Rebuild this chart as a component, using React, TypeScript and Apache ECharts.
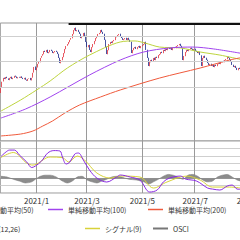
import React, { useEffect, useRef } from "react";
import * as echarts from "echarts";

// ---- data ----
const START_DATE = "2020-11-23";
const END_DATE = "2021-09-03";

const opens = [
  2551, 2592, 2642, 2672, 2660, 2679, 2666, 2652, 2668, 2680,
  2660, 2670, 2688, 2681, 2666, 2678, 2670, 2682, 2671, 2659,
  2672, 2656, 2646, 2664, 2670, 2650, 2672, 2712, 2760, 2730,
  2752, 2782, 2793, 2829, 2845, 2856, 2884, 2872, 2892, 2864,
  2872, 2892, 2884, 2864, 2872, 2884, 2876, 2860, 2829, 2785,
  2809, 2833, 2864, 2896, 2923, 2935, 2951, 2971, 2982, 3014,
  3045, 3066, 3037, 3049, 3033, 3018, 2982, 2998, 3026, 3002,
  2955, 2911, 2931, 2892, 2872, 2911, 2935, 2959, 2982, 2998,
  3014, 3022, 3049, 3033, 3018, 2971, 2915, 2856, 2888, 2935,
  2955, 2943, 2959, 2967, 2990, 2998, 3006, 3018, 2994, 2986,
  2967, 2974, 2986, 2967, 2986, 2971, 2955, 2864, 2888, 2904,
  2915, 2896, 2911, 2923, 2904, 2919, 2927, 2935, 2955, 2892,
  2829, 2762, 2793, 2813, 2801, 2829, 2809, 2837, 2825, 2848,
  2856, 2876, 2864, 2892, 2880, 2900, 2888, 2908, 2896, 2908,
  2888, 2904, 2915, 2904, 2919, 2927, 2939, 2923, 2904, 2809,
  2841, 2872, 2892, 2880, 2896, 2908, 2900, 2888, 2900, 2884,
  2876, 2864, 2876, 2848, 2762, 2825, 2845, 2829, 2813, 2789,
  2770, 2782, 2762, 2774, 2754, 2774, 2762, 2778, 2789, 2778,
  2793, 2805, 2793, 2809, 2817, 2837, 2829, 2813, 2797, 2774,
  2754, 2766, 2750, 2730, 2750, 2742
];
const closes = [
  2590, 2640, 2670, 2662, 2677, 2668, 2654, 2670, 2678, 2662,
  2671, 2686, 2679, 2668, 2676, 2672, 2680, 2669, 2661, 2670,
  2655, 2648, 2662, 2668, 2652, 2670, 2710, 2756, 2732, 2750,
  2780, 2795, 2827, 2843, 2858, 2882, 2874, 2890, 2866, 2874,
  2890, 2882, 2866, 2874, 2882, 2874, 2858, 2827, 2787, 2811,
  2835, 2866, 2898, 2921, 2937, 2953, 2969, 2984, 3016, 3047,
  3063, 3039, 3047, 3031, 3016, 2984, 3000, 3024, 3000, 2953,
  2913, 2929, 2890, 2874, 2913, 2937, 2961, 2984, 3000, 3016,
  3024, 3047, 3031, 3016, 2969, 2913, 2858, 2890, 2937, 2953,
  2945, 2961, 2969, 2992, 3000, 3008, 3016, 2992, 2984, 2969,
  2976, 2984, 2969, 2984, 2969, 2953, 2866, 2890, 2906, 2913,
  2898, 2913, 2921, 2906, 2921, 2929, 2937, 2953, 2890, 2827,
  2764, 2795, 2811, 2803, 2827, 2811, 2835, 2827, 2850, 2858,
  2874, 2866, 2890, 2882, 2898, 2890, 2906, 2898, 2906, 2890,
  2906, 2913, 2906, 2921, 2929, 2937, 2921, 2906, 2811, 2843,
  2874, 2890, 2882, 2898, 2906, 2898, 2890, 2898, 2882, 2874,
  2866, 2874, 2850, 2764, 2827, 2843, 2827, 2811, 2787, 2772,
  2780, 2764, 2772, 2756, 2772, 2764, 2780, 2787, 2780, 2795,
  2803, 2795, 2811, 2819, 2835, 2827, 2811, 2795, 2772, 2756,
  2764, 2748, 2732, 2748, 2740, 2732
];

// moving averages: [day index, value]
const ma50Pts = [
  [0, 2409], [16, 2496], [29, 2575], [40, 2646], [54, 2748], [72, 2850],
  [97, 2953], [109, 2961], [117, 2945], [129, 2913], [146, 2906],
  [162, 2874], [178, 2850], [195, 2815]
];
const ma100Pts = [
  [0, 2354], [20, 2425], [40, 2520], [72, 2693], [97, 2811], [116, 2874],
  [137, 2906], [156, 2913], [173, 2898], [195, 2864]
];
const ma200Pts = [
  [0, 2213], [16, 2228], [26, 2252], [34, 2291], [42, 2331], [52, 2394],
  [64, 2457], [81, 2520], [97, 2575], [129, 2669], [162, 2748],
  [186, 2811], [195, 2829]
];
const macdPts = [
  [0, 29.1], [4, 35.1], [7, 37.8], [11, 37.8], [15, 31.1], [21, 21.7],
  [25, 14.3], [28, 16.3], [33, 23.0], [38, 33.8], [43, 37.1], [48, 36.5],
  [50, 28.4], [53, 19.0], [56, 21.7], [60, 32.4], [63, 33.8], [67, 24.4],
  [72, 10.9], [78, 0.1], [86, -5.2], [94, 1.5], [97, 4.2], [105, 1.5],
  [113, -2.6], [121, -18.7], [127, -16.0], [132, -5.2], [137, 0.1],
  [146, 2.8], [150, -1.2], [159, -3.9], [168, -13.3], [172, -14.7],
  [178, -16.0], [184, -10.6], [188, -9.3], [192, -14.7], [195, -15.0]
];
const signalPts = [
  [0, 27.7], [10, 34.5], [21, 20.3], [26, 17.6], [29, 19.0], [40, 28.4],
  [50, 27.7], [55, 21.7], [62, 29.7], [68, 24.4], [78, 6.9], [89, 0.1],
  [97, 2.8], [113, 1.5], [124, -13.3], [135, -5.2], [151, 2.8],
  [162, -2.6], [172, -12.0], [186, -12.0], [195, -13.3]
];
const osciPts = [
  [0, 2.5], [5, 1.5], [10, -1.5], [15, -4], [20, -6.5], [25, -5], [28, -1.5],
  [32, 2.5], [36, 4], [40, 4], [45, 1.5], [50, -4], [54, -6.5], [58, -4],
  [62, 1.5], [66, 2.5], [70, -2.5], [74, -5], [78, -6.5], [82, -4],
  [86, -1.5], [90, 1.5], [94, 2.5], [98, 1.5], [104, -1.5], [110, -2.5],
  [116, -5], [120, -8], [124, -5], [128, -1.5], [132, 2.5], [136, 5],
  [140, 4], [144, 1.5], [148, -1.5], [152, 4], [156, 5], [160, 2.5],
  [164, -2.5], [168, -5], [172, -4], [176, 1.5], [180, 4], [184, 5],
  [188, 1.5], [192, -2.5], [195, -4]
];

const priceGridLevels = [2400, 2600, 2800, 3000];
const highLineLevel = 3094;
const highLineFrom = 55;

// ---- helpers ----
function weekdays(s: string, e: string): string[] {
  const out: string[] = [];
  const d = new Date(s + "T00:00:00Z");
  const end = new Date(e + "T00:00:00Z");
  while (d <= end) {
    const wd = d.getUTCDay();
    if (wd !== 0 && wd !== 6) {
      out.push(`${d.getUTCFullYear()}/${d.getUTCMonth() + 1}/${d.getUTCDate()}`);
    }
    d.setUTCDate(d.getUTCDate() + 1);
  }
  return out;
}

const dates = weekdays(START_DATE, END_DATE);
const monthOf = (s: string) => Number(s.split("/")[1]);
const isLabelDay = (i: number) =>
  i > 0 && i < dates.length && monthOf(dates[i]) !== monthOf(dates[i - 1]) && monthOf(dates[i]) % 2 === 1;

const OFF = 50;
const DAY = 1.23;
const FONT = "'Noto Sans CJK JP', 'Noto Sans', sans-serif";

export default function App() {
  const ref = useRef<HTMLDivElement>(null);
  useEffect(() => {
    if (!ref.current) return;
    const chart = echarts.init(ref.current, undefined, { renderer: "svg" });
    const candles = closes.map((c, i) => {
      const o = opens[i];
      return [o, c, Math.min(o, c), Math.max(o, c)];
    });
    const sparse = (pts: number[][]) => pts.map(([i, v]) => [i, v]);
    const gridLeft = OFF + 0.33;
    const gridWidth = dates.length * DAY;
    const legendBase = {
      orient: "horizontal",
      padding: 0,
      itemWidth: 15,
      itemHeight: 1.5,
      itemGap: 0,
      icon: "rect",
      selectedMode: false,
      textStyle: { fontSize: 7, color: "#333", fontFamily: FONT, padding: [0, 0, 0, 0] },
    };
    const vSplit = {
      show: true,
      interval: (idx: number) => isLabelDay(idx),
      lineStyle: { color: "#9a9a9a", width: 1 },
    };
    chart.setOption({
      animation: false,
      backgroundColor: "#fff",
      grid: [
        { left: gridLeft, top: 23, width: gridWidth, height: 118, show: true, borderColor: "#999", borderWidth: 1 },
        { left: gridLeft, top: 141, width: gridWidth, height: 52, show: true, borderColor: "#999", borderWidth: 1 },
      ],
      xAxis: [
        {
          type: "category", gridIndex: 0, data: dates, boundaryGap: true,
          axisLine: { show: false }, axisTick: { show: false }, axisLabel: { show: false },
          splitLine: vSplit,
        },
        {
          type: "category", gridIndex: 1, data: dates, boundaryGap: true,
          axisLine: { show: true, lineStyle: { color: "#999" } }, axisTick: { show: false },
          axisLabel: {
            show: true,
            interval: (idx: number) => isLabelDay(idx),
            formatter: (v: string) => { const p = v.split("/"); return `${p[0]}/${p[1]}`; },
            fontSize: 8, color: "#333", fontFamily: FONT, margin: 3,
          },
          splitLine: vSplit,
        },
      ],
      yAxis: [
        {
          type: "value", gridIndex: 0, min: 2173.2, max: 3102.4, position: "right",
          axisLine: { show: false }, axisTick: { show: false }, axisLabel: { show: false },
          splitLine: { show: false },
        },
        {
          type: "value", gridIndex: 1, min: -20, max: 50, interval: 10, position: "right",
          axisLine: { show: false }, axisTick: { show: false }, axisLabel: { show: false },
          splitLine: { show: true, lineStyle: { color: "#cfcfcf", width: 1 } },
        },
      ],
      legend: [
        { ...legendBase, left: OFF - 41, top: 206, data: ["単純移動平均(50)"] },
        { ...legendBase, left: OFF + 48, top: 206, data: ["単純移動平均(100)"] },
        { ...legendBase, left: OFF + 148, top: 206, data: ["単純移動平均(200)"] },
        { ...legendBase, left: OFF - 41, top: 225, data: ["MACD(12,26)"] },
        { ...legendBase, left: OFF + 85, top: 225, data: ["シグナル(9)"] },
        { ...legendBase, left: OFF + 153, top: 225, itemHeight: 2, data: ["OSCI"] },
      ],
      series: [
        {
          name: "grid", type: "line", xAxisIndex: 0, yAxisIndex: 0, data: [], z: 1, silent: true,
          markLine: {
            silent: true, symbol: "none", label: { show: false },
            lineStyle: { color: "#cfcfcf", width: 1, type: "solid" },
            data: priceGridLevels.map((v) => ({ yAxis: v })),
          },
        },
        {
          name: "price", type: "candlestick", xAxisIndex: 0, yAxisIndex: 0, data: candles, z: 3,
          barWidth: "70%",
          itemStyle: { color: "#e2303c", color0: "#1b2a8c", borderColor: "#e2303c", borderColor0: "#1b2a8c", borderWidth: 0.8 },
          markLine: {
            silent: true, symbol: "none", label: { show: false },
            lineStyle: { color: "#111", width: 2, type: "solid" },
            data: [[{ coord: [highLineFrom, highLineLevel] }, { coord: [dates.length - 1, highLineLevel] }]],
          },
        },
        {
          name: "単純移動平均(50)", type: "line", xAxisIndex: 0, yAxisIndex: 0, data: sparse(ma50Pts),
          smooth: 0.3, showSymbol: false, symbol: "none", z: 4, lineStyle: { color: "#bdd43e", width: 1 }, itemStyle: { color: "#bdd43e" },
        },
        {
          name: "単純移動平均(100)", type: "line", xAxisIndex: 0, yAxisIndex: 0, data: sparse(ma100Pts),
          smooth: 0.3, showSymbol: false, symbol: "none", z: 4, lineStyle: { color: "#a044ee", width: 1 }, itemStyle: { color: "#a044ee" },
        },
        {
          name: "単純移動平均(200)", type: "line", xAxisIndex: 0, yAxisIndex: 0, data: sparse(ma200Pts),
          smooth: 0.3, showSymbol: false, symbol: "none", z: 4, lineStyle: { color: "#ef5a3c", width: 1 }, itemStyle: { color: "#ef5a3c" },
        },
        {
          name: "OSCI", type: "line", xAxisIndex: 1, yAxisIndex: 1, data: sparse(osciPts),
          smooth: 0.3, showSymbol: false, symbol: "none", z: 2,
          lineStyle: { color: "#777", width: 0.5 }, itemStyle: { color: "#777" },
          areaStyle: { color: "#8c8c8c", opacity: 1, origin: "auto" },
        },
        {
          name: "MACD(12,26)", type: "line", xAxisIndex: 1, yAxisIndex: 1, data: sparse(macdPts),
          smooth: 0.35, showSymbol: false, symbol: "none", z: 4, lineStyle: { color: "#8a2be2", width: 1 }, itemStyle: { color: "#8a2be2" },
        },
        {
          name: "シグナル(9)", type: "line", xAxisIndex: 1, yAxisIndex: 1, data: sparse(signalPts),
          smooth: 0.35, showSymbol: false, symbol: "none", z: 3, lineStyle: { color: "#d8d23a", width: 1 }, itemStyle: { color: "#d8d23a" },
        },
      ],
    });
    return () => chart.dispose();
  }, []);
  return (
    <div style={{ position: "fixed", left: 0, top: 0, width: 240, height: 240, overflow: "hidden", background: "#fff" }}>
      <div ref={ref} style={{ position: "absolute", left: -OFF, top: 0, width: 240 + OFF + 70, height: 240 }} />
    </div>
  );
}
